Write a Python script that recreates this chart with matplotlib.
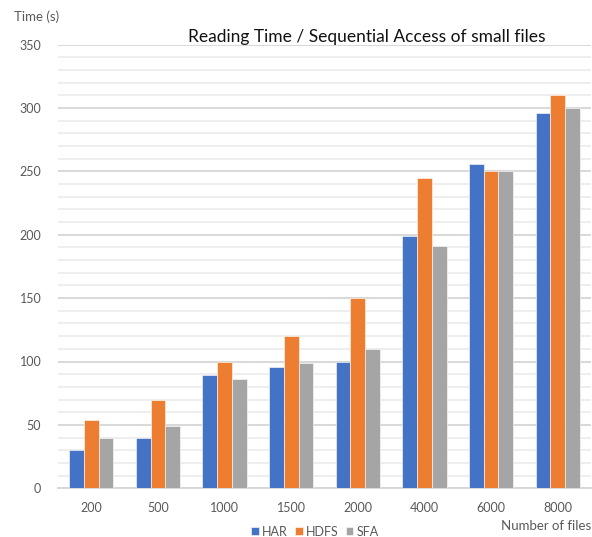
import matplotlib
matplotlib.use("Agg")
import matplotlib.pyplot as plt
import numpy as np

# Reading time (seconds) for sequential access of small files
file_counts = ["200", "500", "1000", "1500", "2000", "4000", "6000", "8000"]
har = [30, 40, 89, 96, 100, 199, 256, 296]
hdfs = [54, 70, 100, 120, 150, 245, 250, 310]
sfa = [40, 49, 86, 99, 110, 191, 250, 300]

series_names = ["HAR", "HDFS", "SFA"]
series_colors = ["#4472C4", "#ED7D31", "#A5A5A5"]
y_major = [0, 50, 100, 150, 200, 250, 300, 350]

plt.rcParams["font.family"] = ["Lato", "DejaVu Sans"]
text_gray = "#595959"

fig = plt.figure(figsize=(5.92, 5.37), dpi=100)
ax = fig.add_axes([58 / 592, (537 - 488.3) / 537, 533 / 592, (488.3 - 44.5) / 537])

x = np.arange(len(file_counts))
bar_w = 0.222
for i, (name, vals, col) in enumerate(zip(series_names, [har, hdfs, sfa], series_colors)):
    ax.bar(x + (i - 1) * bar_w, vals, width=bar_w, color=col, label=name,
           edgecolor="white", linewidth=0.4, zorder=3)

ax.set_xlim(-0.5, len(file_counts) - 0.5)
ax.set_ylim(0, 350)
ax.set_yticks(y_major)
ax.set_yticks(np.arange(0, 351, 10), minor=True)
ax.yaxis.grid(True, which="major", color="#D6D6D6", linewidth=1.3, zorder=1)
ax.yaxis.grid(True, which="minor", color="#E9E9E9", linewidth=1.1, zorder=0)
ax.set_axisbelow(True)

ax.set_xticks(x)
ax.set_xticklabels(file_counts)
ax.tick_params(axis="both", which="both", length=0, labelsize=9, colors=text_gray)
ax.tick_params(axis="x", pad=10)
ax.tick_params(axis="y", pad=12)

for side in ["top", "right", "left"]:
    ax.spines[side].set_visible(False)
ax.spines["bottom"].set_color("#D6D6D6")
ax.spines["bottom"].set_linewidth(1.3)

fig.text(367 / 592, 1 - 37 / 537, "Reading Time / Sequential Access of small files",
         ha="center", va="center", fontsize=12.5, color="#111111")
fig.text(14 / 592, 1 - 17 / 537, "Time (s)", ha="left", va="center",
         fontsize=9.5, color=text_gray)
fig.text(591 / 592, 1 - 526 / 537, "Number of files", ha="right", va="center",
         fontsize=9.5, color=text_gray)

leg = fig.legend(loc="center", bbox_to_anchor=(315 / 592, 1 - 531.5 / 537), ncol=3,
                 frameon=False, fontsize=9, handlelength=0.6, handleheight=0.6,
                 handletextpad=0.25, columnspacing=0.6, borderpad=0)
for t in leg.get_texts():
    t.set_color(text_gray)

fig.savefig("out.png", dpi=100, facecolor="white")
